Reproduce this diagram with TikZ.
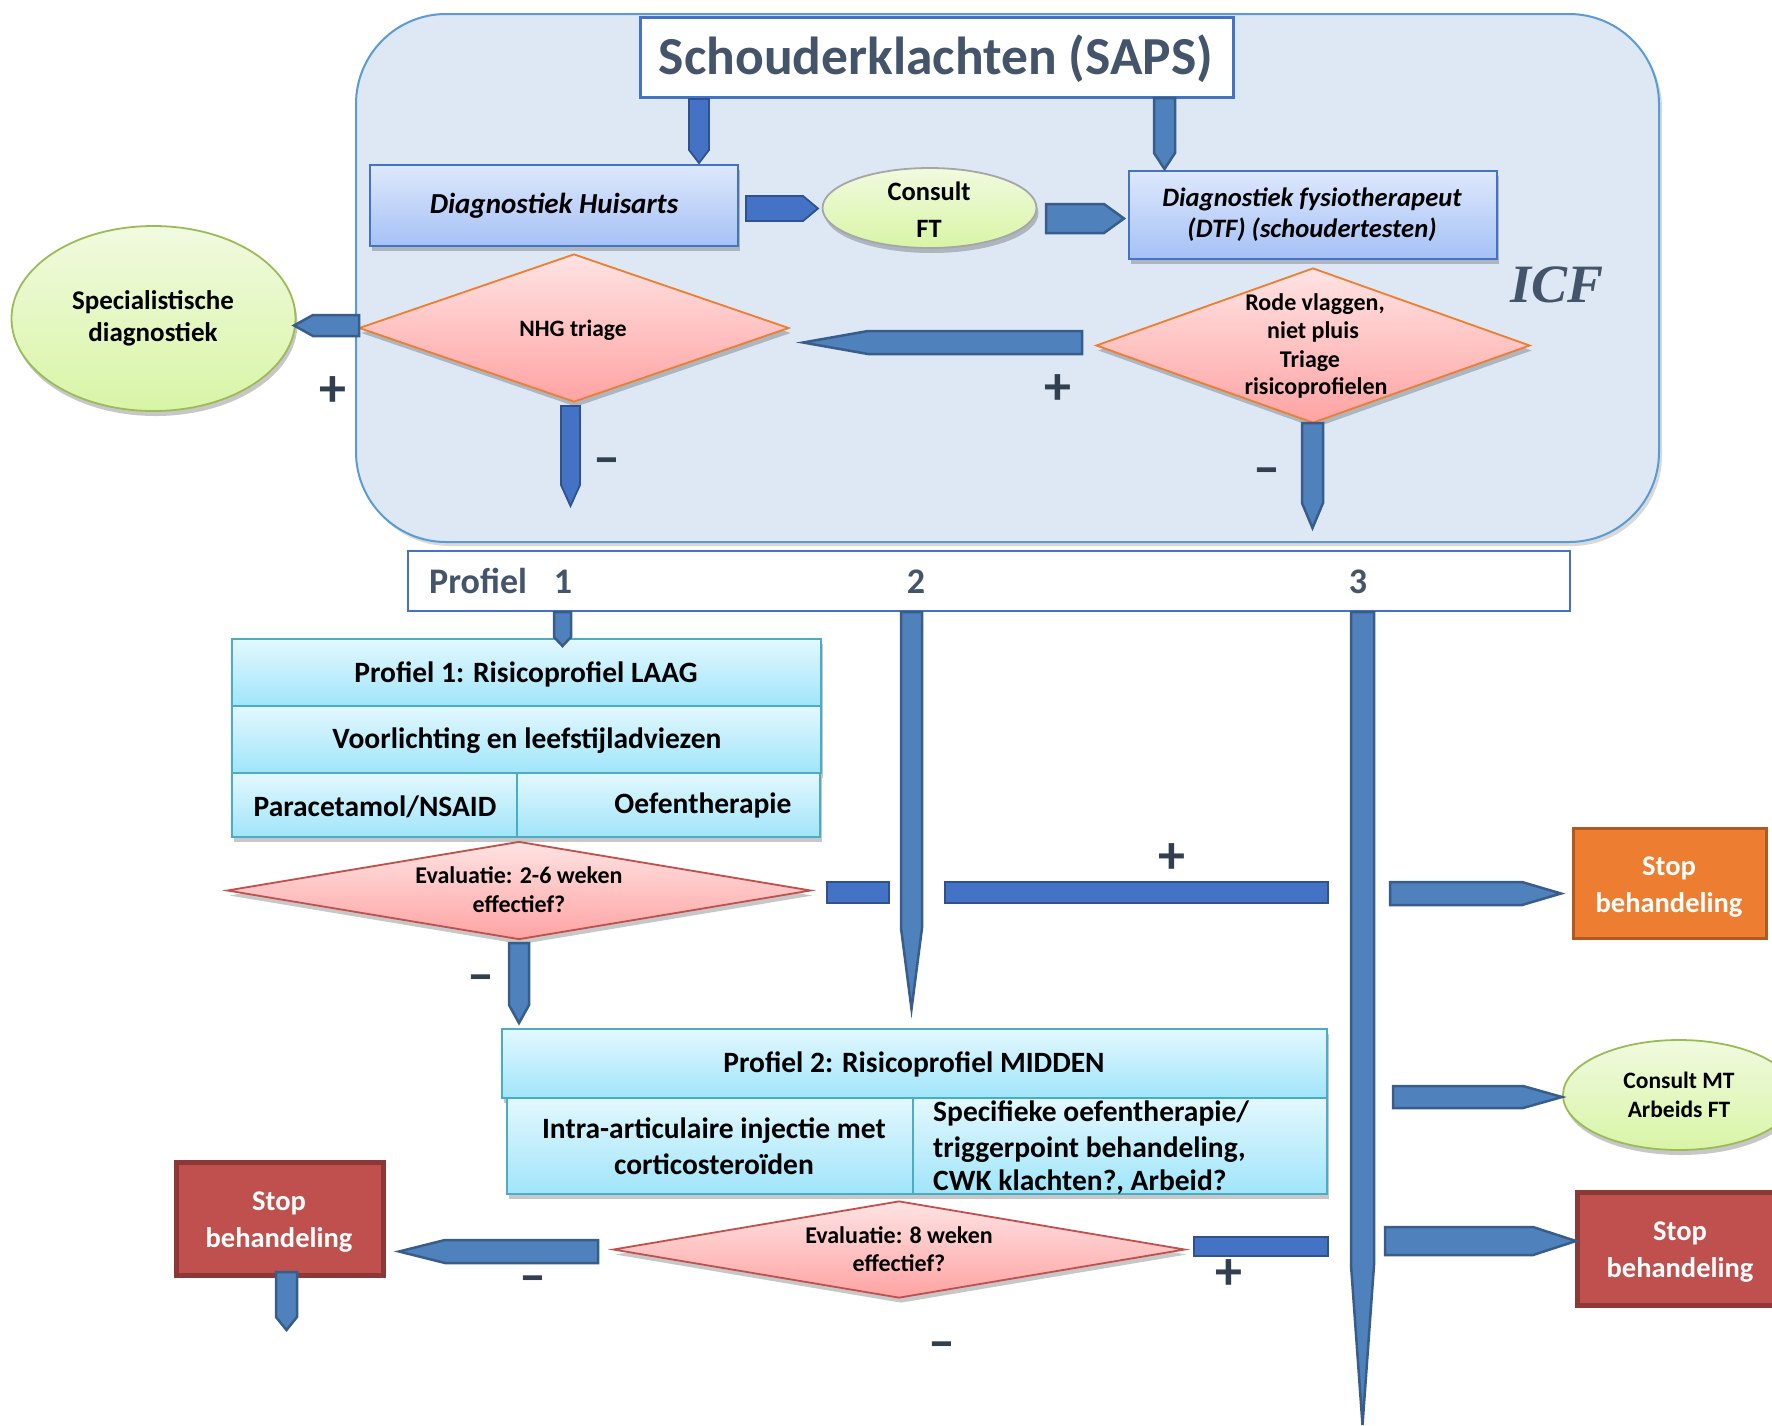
\documentclass[tikz,border=0pt]{standalone}
\usepackage{fontspec}
\setmainfont{Carlito}
\newfontfamily\icffont{Liberation Serif}
\usetikzlibrary{shapes.geometric,shadows}
\definecolor{slate}{HTML}{44546A}
\definecolor{signc}{HTML}{323F4F}
\definecolor{arrfill}{HTML}{4F81BD}
\definecolor{arrdraw}{HTML}{385D8A}
\definecolor{brfill}{HTML}{4472C4}
\definecolor{brdraw}{HTML}{2F528F}
\definecolor{icffill}{HTML}{DEE8F5}
\definecolor{icfdraw}{HTML}{5B9BD5}
\definecolor{blue1}{HTML}{4472C4}
\definecolor{bbtop}{HTML}{DEE8FC}
\definecolor{bbbot}{HTML}{A5C1F6}
\definecolor{cytop}{HTML}{E3F8FE}
\definecolor{cybot}{HTML}{A0E5FA}
\definecolor{cydraw}{HTML}{4BACC6}
\definecolor{ptop}{HTML}{FFE3E3}
\definecolor{pbot}{HTML}{FFA3A3}
\definecolor{orange1}{HTML}{ED7D31}
\definecolor{redb}{HTML}{C0504D}
\definecolor{gtop}{HTML}{F1FADF}
\definecolor{gbot}{HTML}{D8F5A6}
\definecolor{green1}{HTML}{9BBB59}
\definecolor{grey1}{HTML}{A6A6A6}
\definecolor{stopO}{HTML}{ED7D31}
\definecolor{stopOd}{HTML}{AE5A21}
\definecolor{stopR}{HTML}{C0504D}
\definecolor{stopRd}{HTML}{8C3836}
\newcommand\fsz[1]{\fontsize{#1}{#1}\selectfont}
% block arrows: [style]{x1}{x2}{yc}{h}{head}
\newcommand\blkR[6][stdarr]{\draw[#1] (#2,#4-#5/2) -- (#3-#6,#4-#5/2) -- (#3,#4) -- (#3-#6,#4+#5/2) -- (#2,#4+#5/2) -- cycle;}
\newcommand\blkL[6][stdarr]{\draw[#1] (#2,#4) -- (#2+#6,#4-#5/2) -- (#3,#4-#5/2) -- (#3,#4+#5/2) -- (#2+#6,#4+#5/2) -- cycle;}
% [style]{xc}{w}{y1}{y2}{head}
\newcommand\blkD[6][stdarr]{\draw[#1] (#2-#3/2,#4) -- (#2+#3/2,#4) -- (#2+#3/2,#5-#6) -- (#2,#5) -- (#2-#3/2,#5-#6) -- cycle;}
\begin{document}
\begin{tikzpicture}[x=1pt,y=-1pt,
  shd/.style={drop shadow={shadow xshift=2pt,shadow yshift=-5pt,fill=black,opacity=0.22}},
  stdarr/.style={fill=arrfill,draw=arrdraw,line width=2.5},
  brarr/.style={fill=brfill,draw=brdraw,line width=1.8},
  bluebox/.style={rectangle,draw=blue1,line width=2,top color=bbtop,bottom color=bbbot,shd},
  cyanbox/.style={rectangle,draw=cydraw,line width=2.2,top color=cytop,bottom color=cybot,shd},
  dia/.style={diamond,inner sep=0,draw=orange1,line width=1.8,top color=ptop,bottom color=pbot,shd},
  evdia/.style={dia,draw=redb},
  ell/.style={ellipse,inner sep=0,top color=gtop,bottom color=gbot,line width=1.8,shd},
  stopo/.style={rectangle,fill=stopO,draw=stopOd,line width=3},
  stopr/.style={rectangle,fill=stopR,draw=stopRd,line width=5},
  t/.style={inner sep=0,anchor=base,font=\fsz{29.5}\bfseries},
  tsm/.style={t,font=\fsz{24}\bfseries},
  tw/.style={t,text=white,font=\fsz{28.5}\bfseries},
  sgn/.style={inner sep=0,anchor=center,font=\fsz{54}\bfseries,text=signc}]
\useasboundingbox (0,0) rectangle (1772,1425);
\clip (0,0) rectangle (1772,1425);

% ICF area
\node[rectangle,rounded corners=90,fill=icffill,draw=icfdraw,line width=2,minimum width=1303,minimum height=528,
  drop shadow={shadow xshift=3pt,shadow yshift=-4pt,fill=black,opacity=0.15}] (icf) at (1007.5,278) {};

% boxes
\node[rectangle,draw=blue1,line width=3,fill=white,minimum width=593,minimum height=80] (title) at (936.5,57) {};
\node[bluebox,minimum width=368,minimum height=81] (huis) at (554,205.5) {};
\node[ell,draw=grey1,minimum width=214,minimum height=80] (cft) at (929.5,208) {};
\node[bluebox,minimum width=368,minimum height=88] (dtf) at (1312.5,214.5) {};
\node[dia,minimum width=430,minimum height=148] (nhg) at (574,328) {};
\node[ell,draw=green1,minimum width=284,minimum height=185] (spec) at (153.5,318.5) {};
\node[dia,minimum width=434,minimum height=155] (rode) at (1313,345.5) {};
\node[rectangle,draw=blue1,line width=2.5,fill=white,minimum width=1162,minimum height=60] (bar) at (989,581) {};

\node[cyanbox,minimum width=589,minimum height=67] (p1a) at (526.5,672.5) {};
\node[cyanbox,minimum width=589,minimum height=67] (p1b) at (526.5,739.5) {};
\node[cyanbox,minimum width=285,minimum height=64] (p1c) at (374.5,805) {};
\node[cyanbox,minimum width=303,minimum height=64] (p1d) at (668.5,805) {};
\node[evdia,minimum width=584,minimum height=98] (ev1) at (519,890.5) {};
\node[stopo,minimum width=193,minimum height=110] (stop1) at (1669.5,883) {};

\node[cyanbox,minimum width=825,minimum height=69] (p2a) at (914.5,1063.5) {};
\node[cyanbox,minimum width=406,minimum height=96] (p2b) at (710,1146) {};
\node[cyanbox,minimum width=414,minimum height=96] (p2c) at (1120,1146) {};
\node[evdia,minimum width=572,minimum height=97] (ev2) at (899,1249.5) {};
\node[stopr,minimum width=207,minimum height=113] (stop2) at (279.5,1218.5) {};
\node[ell,draw=green1,minimum width=232,minimum height=110] (cmt) at (1679,1095) {};
\node[stopr,minimum width=208,minimum height=113] (stop3) at (1681,1248.5) {};

% block arrows
\blkD[brarr]{699}{20}{99}{163}{13}
\blkD{1164.5}{21}{98}{169}{16}
\blkR[brarr]{746}{818}{208.5}{25}{15}
\blkR{1046}{1124}{218.5}{29}{20}
\blkL{294}{359}{325.5}{21}{19}
\blkD[brarr]{570.5}{19}{406}{506}{21}
\blkL{803}{1082}{342.5}{23}{65}
\blkD{1312.5}{21}{423}{528}{25}
\blkD{562.5}{17}{612}{646}{9}
\blkD{911.5}{21}{612}{1009}{81}
\blkD{1362.5}{23}{612}{1425}{160}
\draw[brarr] (827,882) rectangle (889,903);
\draw[brarr] (945,882) rectangle (1328,903);
\blkR{1390}{1561}{893.5}{23}{39}
\blkD{519}{20}{943}{1023}{18}
\blkL{399}{598}{1251.5}{23}{46}
\blkD{286.5}{21}{1272}{1330}{13}
\draw[brarr] (1194,1237) rectangle (1328,1256);
\blkR{1393}{1562}{1097}{22}{39}
\blkR{1385}{1576}{1241}{28}{43}

% texts
\node[t,font=\fsz{53.5}\bfseries,text=slate] (tt) at (936,74) {Schouderklachten (SAPS)};
\node[t,font=\fsz{29}\bfseries\itshape] (huist) at (554,213) {Diagnostiek Huisarts};
\node[t,font=\fsz{26.5}\bfseries] (cft1) at (929,200) {Consult};
\node[t,font=\fsz{26.5}\bfseries] (cft2) at (929,237) {FT};
\node[t,font=\fsz{26.6}\bfseries\itshape] (dtf1) at (1312,206) {Diagnostiek fysiotherapeut};
\node[t,font=\fsz{26.6}\bfseries\itshape] (dtf2) at (1312,237) {(DTF) (schoudertesten)};
\node[t,font=\icffont\fsz{54}\bfseries\itshape,text=slate] (icft) at (1557,302) {ICF};
\node[t,font=\fsz{23.5}\bfseries] (nhgt) at (573,336) {NHG triage};
\node[t,font=\fsz{27}\bfseries] (spec1) at (153,309) {Specialistische};
\node[t,font=\fsz{27}\bfseries] (spec2) at (153,341) {diagnostiek};
\node[t,font=\fsz{24}\bfseries] (rode1) at (1315,310) {Rode vlaggen,};
\node[t,font=\fsz{24}\bfseries] (rode2) at (1313,338) {niet pluis};
\node[t,font=\fsz{24}\bfseries] (rode3) at (1310,367) {Triage};
\node[t,font=\fsz{24}\bfseries] (rode4) at (1316,394) {risicoprofielen};

\node[t,anchor=base west,font=\fsz{36}\bfseries,text=slate] (bart) at (429,593) {Profiel};
\node[t,font=\fsz{36}\bfseries,text=slate] (bar1) at (563,593) {1};
\node[t,font=\fsz{36}\bfseries,text=slate] (bar2) at (916,593) {2};
\node[t,font=\fsz{36}\bfseries,text=slate] (bar3) at (1358,593) {3};

\node[t] (p1at) at (526,682) {Profiel 1: Risicoprofiel LAAG};
\node[t] (p1bt) at (527,748) {Voorlichting en leefstijladviezen};
\node[t] (p1ct) at (375,816) {Paracetamol/NSAID};
\node[t] (p1dt) at (703,813) {Oefentherapie};
\node[tsm] (ev1a) at (519,883) {Evaluatie: 2-6 weken};
\node[tsm] (ev1b) at (519,912) {effectief?};
\node[tw] (stop1a) at (1669,875) {Stop};
\node[tw] (stop1b) at (1669,912) {behandeling};

\node[t] (p2at) at (914,1072) {Profiel 2: Risicoprofiel MIDDEN};
\node[t] (p2b1) at (714,1138) {Intra-articulaire injectie met};
\node[t] (p2b2) at (714,1174) {corticosteroïden};
\node[t,anchor=base west] (p2c1) at (933,1121) {Specifieke oefentherapie/};
\node[t,anchor=base west] (p2c2) at (933,1157) {triggerpoint behandeling,};
\node[t,anchor=base west] (p2c3) at (933,1190) {CWK klachten?, Arbeid?};
\node[tsm] (ev2a) at (899,1243) {Evaluatie: 8 weken};
\node[tsm] (ev2b) at (899,1271) {effectief?};
\node[tw] (stop2a) at (279,1210) {Stop};
\node[tw] (stop2b) at (279,1247) {behandeling};
\node[t,font=\fsz{23.5}\bfseries] (cmt1) at (1679,1088) {Consult MT};
\node[t,font=\fsz{23.5}\bfseries] (cmt2) at (1679,1117) {Arbeids FT};
\node[tw] (stop3a) at (1680,1240) {Stop};
\node[tw] (stop3b) at (1680,1277) {behandeling};

% signs
\node[sgn] (s1) at (333,392) {+};
\node[sgn] (s2) at (607,467) {–};
\node[sgn] (s3) at (1058,390) {+};
\node[sgn] (s4) at (1267,477) {–};
\node[sgn] (s5) at (481,984) {–};
\node[sgn] (s6) at (1172,859) {+};
\node[sgn] (s7) at (533,1285) {–};
\node[sgn] (s8) at (942,1351) {–};
\node[sgn] (s9) at (1229,1275) {+};
\end{tikzpicture}
\end{document}
